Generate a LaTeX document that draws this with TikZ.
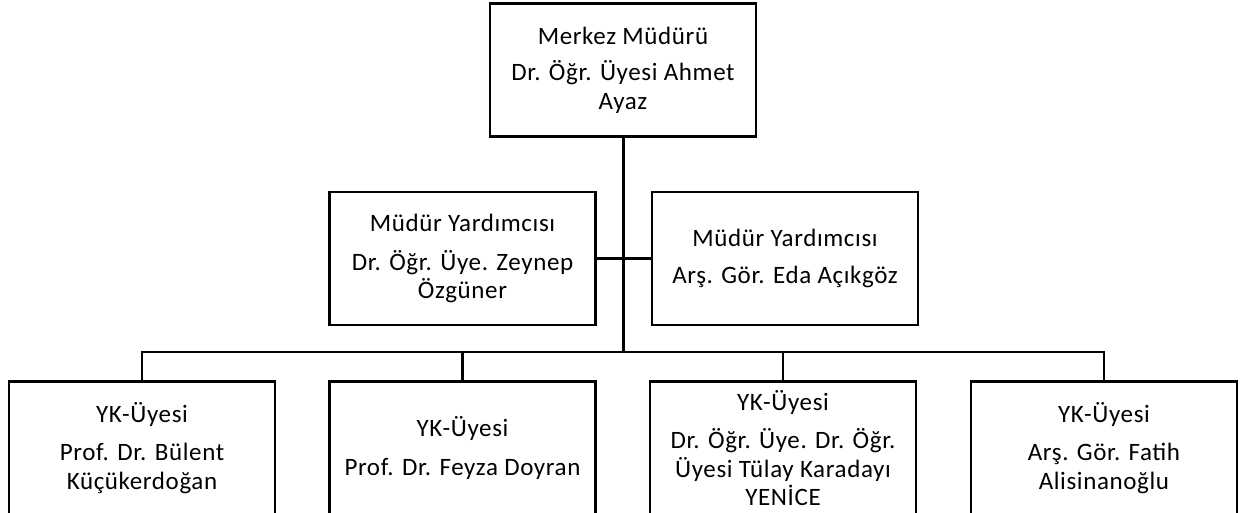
\documentclass[tikz,border=0pt]{standalone}
\usepackage{fontspec}
\setmainfont[LetterSpace=2.5]{Carlito}
\begin{document}
\begin{tikzpicture}[x=1pt,y=1pt,
  box/.style={draw=black, line width=2.2pt, fill=white, minimum width=266pt, minimum height=133pt,
    align=center, inner sep=0pt, font=\fontsize{25}{28.5}\selectfont},
  conn/.style={draw=black, line width=2.2pt},
  trunk/.style={draw=black, line width=3pt}]
\path[use as bounding box, clip] (0,0) rectangle (1243,512);
\fill[white] (0,0) rectangle (1243,512);
% boxes
\node[box] (top) at (623,442) {Merkez Müdürü\\[8pt]Dr. Öğr. Üyesi Ahmet\\Ayaz};
\node[box] (ml) at (462.5,253.5) {Müdür Yardımcısı\\[10pt]Dr. Öğr. Üye. Zeynep\\Özgüner};
\node[box] (mr) at (785,253.5) {Müdür Yardımcısı\\[9pt]Arş. Gör. Eda Açıkgöz};
\node[box] (b1) at (142,64) {YK-Üyesi\\[10pt]Prof. Dr. Bülent\\Küçükerdoğan};
\node[box] (b2) at (462.5,64) {YK-Üyesi\\[10pt]Prof. Dr. Feyza Doyran};
\node[box] (b3) at (783,64) {YK-Üyesi\\[10pt]Dr. Öğr. Üye. Dr. Öğr.\\Üyesi Tülay Karadayı\\YENİCE};
\node[box] (b4) at (1104,64) {YK-Üyesi\\[10pt]Arş. Gör. Fatih\\Alisinanoğlu};
% connectors
\coordinate (bus) at (623,160);
\draw[trunk] (top.south) -- (bus);
\draw[conn] (ml.east) -- (ml.east -| top.south);
\draw[conn] (mr.west) -- (mr.west -| top.south);
\draw[conn] (b1.north) |- (bus) -| (b4.north);
\draw[conn] (b2.north) -- (b2.north |- bus);
\draw[conn] (b3.north) -- (b3.north |- bus);
\end{tikzpicture}
\end{document}
